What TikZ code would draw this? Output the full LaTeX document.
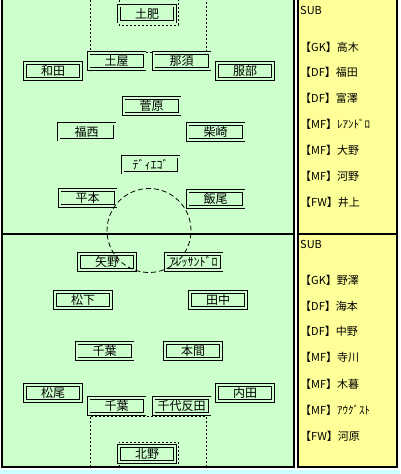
\documentclass[tikz,border=0pt]{standalone}
\usepackage{fontspec}
\setmainfont{Noto Sans CJK JP}
\definecolor{pitch}{RGB}{204,255,204}
\definecolor{bench}{RGB}{255,255,153}
\definecolor{strip}{RGB}{204,255,255}

\begin{document}
\begin{tikzpicture}[x=1pt,y=-1pt,
	player/.style={draw,double=pitch,double distance=2pt,line width=0.8pt,fill=pitch,minimum width=56pt,minimum height=16pt,inner sep=0,font=\fontsize{12}{12}\selectfont},
	benchtext/.style={anchor=west,inner sep=0,font=\fontsize{11}{11}\selectfont},
	markline/.style={line width=0.8pt,dash pattern=on 2pt off 2pt}]
	\useasboundingbox (0,0) rectangle (400,474);
	\fill[strip] (0,470) rectangle (400,474);
	\fill[pitch] (2,0) rectangle (294,467);
	\fill[bench] (297.5,0) rectangle (397,467);
	\draw[line width=2pt] (2,0) -- (2,467) -- (294,467) -- (294,0);
	\draw[line width=2pt] (2,234) -- (294,234);
	\draw[line width=2pt] (297.5,0) -- (297.5,467) -- (397,467) -- (397,0);
	\draw[line width=2pt] (297.5,234) -- (397,234);
	\draw[markline] (90,0) -- (90,52) -- (206,52) -- (206,0);
	\draw[markline] (119,0) -- (119,25) -- (178,25) -- (178,0);
	\draw[markline] (90,467) -- (90,416) -- (206,416) -- (206,467);
	\draw[markline] (119,467) -- (119,442) -- (178,442) -- (178,467);
	\node[player] (1) at (147,13.5) {土肥};
	\node[player] (2) at (116.5,61) {土屋};
	\node[player] (3) at (181.5,61) {那須};
	\node[player] (4) at (53,71) {和田};
	\node[player] (5) at (245,71) {服部};
	\node[player] (6) at (151.5,106) {菅原};
	\node[player] (7) at (86.5,131.5) {福西};
	\node[player] (8) at (215.5,132) {柴崎};
	\node[player] (9) at (150.5,164.5) {ﾃﾞｨｴｺﾞ};
	\node[player] (10) at (87.5,198) {平本};
	\node[player] (11) at (215.5,199) {飯尾};
	\node[player] (12) at (107,262) {矢野};
	\node[player] (13) at (193.5,262) {ｱﾚｯｻﾝﾄﾞﾛ};
	\node[player] (14) at (83,300) {松下};
	\node[player] (15) at (218,300) {田中};
	\node[player] (16) at (104.5,351) {千葉};
	\node[player] (17) at (193,351) {本間};
	\node[player] (18) at (53,393) {松尾};
	\node[player] (19) at (245,393) {内田};
	\node[player] (20) at (116.5,406) {千葉};
	\node[player] (21) at (181.5,406) {千代反田};
	\node[player] (22) at (147,454) {北野};
	\draw[line width=0.8pt,dash pattern=on 5pt off 3pt] (149,230.5) circle (42pt);
	\node[benchtext] (s1) at (300,10) {SUB};
	\node[benchtext] (s2) at (300,47) {【GK】高木};
	\node[benchtext] (s3) at (300,72) {【DF】福田};
	\node[benchtext] (s4) at (300,98) {【DF】富澤};
	\node[benchtext] (s5) at (300,124) {【MF】ﾚｱﾝﾄﾞﾛ};
	\node[benchtext] (s6) at (300,150) {【MF】大野};
	\node[benchtext] (s7) at (300,176) {【MF】河野};
	\node[benchtext] (s8) at (300,202) {【FW】井上};
	\node[benchtext] (t1) at (300,244) {SUB};
	\node[benchtext] (t2) at (300,280) {【GK】野澤};
	\node[benchtext] (t3) at (300,306) {【DF】海本};
	\node[benchtext] (t4) at (300,331) {【DF】中野};
	\node[benchtext] (t5) at (300,357) {【MF】寺川};
	\node[benchtext] (t6) at (300,384) {【MF】木暮};
	\node[benchtext] (t7) at (300,410) {【MF】ｱｳｸﾞｽﾄ};
	\node[benchtext] (t8) at (300,436) {【FW】河原};
\end{tikzpicture}
\end{document}
